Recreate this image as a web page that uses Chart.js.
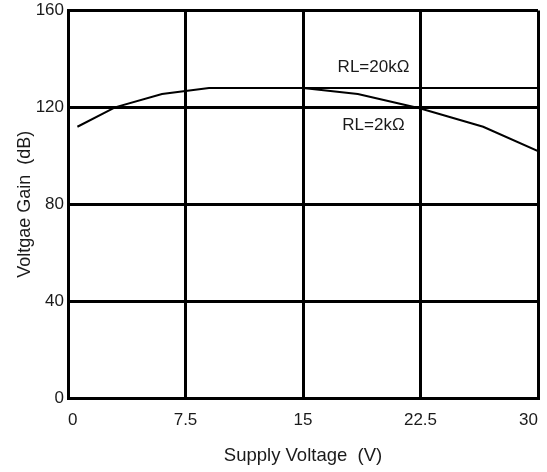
<!DOCTYPE html>
<html>
<head>
<meta charset="utf-8">
<script src="https://cdn.jsdelivr.net/npm/chart.js@4/dist/chart.umd.min.js"></script>
<style>
html,body{margin:0;padding:0;background:#fff;}
#wrap{width:547px;height:472px;}
</style>
</head>
<body>
<div id="wrap"><canvas id="c" width="547" height="472"></canvas></div>
<script>
const xTicks = [0, 7.5, 15, 22.5, 30];
const yTicks = [0, 40, 80, 120, 160];
const rl20kX = [0.6, 3, 6, 9, 15, 30];
const rl20kY = [112, 120, 125.5, 128, 128, 128];
const rl2kX = [15, 18.5, 22.5, 26.5, 30];
const rl2kY = [128, 125.5, 119.5, 112, 102];
const labelTexts = ['RL=20kΩ', 'RL=2kΩ'];
const labelX = [19.5, 19.5];
const labelY = [136.5, 112.5];

const FONT = "'Liberation Sans', Arial, sans-serif";

const labelPlugin = {
  id: 'curveLabels',
  afterDatasetsDraw(chart) {
    const ctx = chart.ctx;
    const xs = chart.scales.x, ys = chart.scales.y;
    ctx.save();
    ctx.font = '17px ' + FONT;
    ctx.fillStyle = '#1a1a1a';
    ctx.textAlign = 'center';
    ctx.textBaseline = 'middle';
    labelTexts.forEach((t, i) => {
      ctx.fillText(t, xs.getPixelForValue(labelX[i]), ys.getPixelForValue(labelY[i]));
    });
    ctx.restore();
  }
};

new Chart(document.getElementById('c'), {
  type: 'line',
  data: {
    datasets: [
      { label: 'RL=20kΩ', data: rl20kX.map((x, i) => ({x, y: rl20kY[i]})), borderColor: '#000', borderWidth: 2, pointRadius: 0, tension: 0, fill: false },
      { label: 'RL=2kΩ', data: rl2kX.map((x, i) => ({x, y: rl2kY[i]})), borderColor: '#000', borderWidth: 2, pointRadius: 0, tension: 0, fill: false }
    ]
  },
  options: {
    responsive: false,
    animation: false,
    layout: { padding: { left: 0, top: 10.5, right: 9, bottom: 0 } },
    plugins: { legend: { display: false }, tooltip: { enabled: false } },
    scales: {
      x: {
        type: 'linear', min: 0, max: 30,
        afterBuildTicks(s) { s.ticks = xTicks.map(v => ({value: v})); },
        afterFit(s) { s.height = 74; s.paddingLeft = 0; s.paddingRight = 0; },
        grid: { color: '#000', lineWidth: 3, drawTicks: false },
        border: { color: '#000', width: 3 },
        ticks: { color: '#1a1a1a', font: { family: FONT, size: 17 }, padding: 12, align: 'inner', maxRotation: 0,
          callback: v => String(v) },
        title: { display: true, text: 'Supply Voltage  (V)', color: '#1a1a1a', font: { family: FONT, size: 18.5 }, padding: { top: 5, bottom: 5 } }
      },
      y: {
        type: 'linear', min: 0, max: 160,
        afterBuildTicks(s) { s.ticks = yTicks.map(v => ({value: v})); },
        afterFit(s) { s.width = 68; s.paddingTop = 0; s.paddingBottom = 0; },
        grid: { color: '#000', lineWidth: 3, drawTicks: false },
        border: { color: '#000', width: 3 },
        ticks: { color: '#1a1a1a', font: { family: FONT, size: 17 }, padding: 4 },
        title: { display: true, text: 'Voltgae Gain  (dB)', color: '#1a1a1a', font: { family: FONT, size: 18 }, padding: { top: 14, bottom: 14 } }
      }
    }
  },
  plugins: [labelPlugin]
});
</script>
</body>
</html>
